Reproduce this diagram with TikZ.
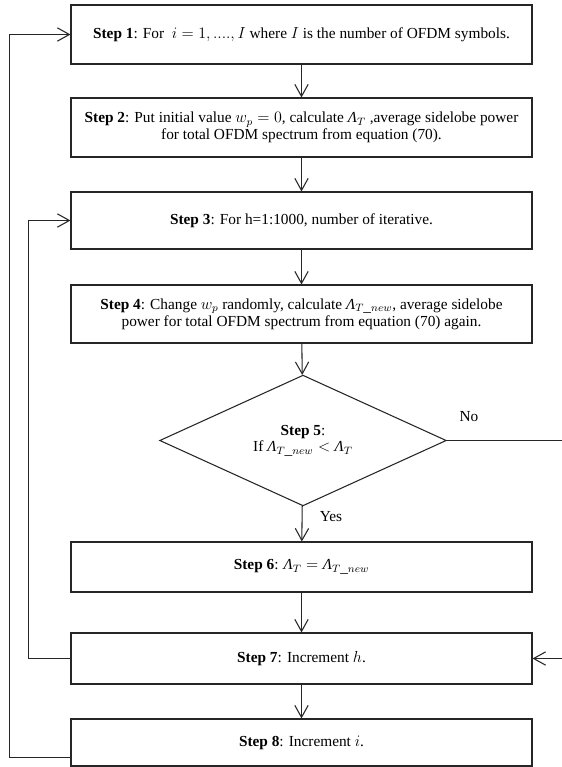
\documentclass[tikz,border=0pt]{standalone}
\usepackage{fontspec}
\setmainfont{Liberation Serif}
\usetikzlibrary{arrows.meta,positioning,calc,shapes.geometric}
\newcommand{\Lam}{\textit{Λ}}

\begin{document}
\begin{tikzpicture}[x=0.75pt,y=-0.75pt,>={Straight Barb[length=9pt,width=10pt]},
 font=\fontsize{11.5}{12.5}\selectfont,line width=0.8pt,draw=black!85,
 stp/.style={draw,rectangle,minimum width=345.75pt,inner sep=2pt,align=center},
 dec/.style={draw,diamond,minimum width=215pt,minimum height=98pt,inner sep=0pt,align=center},
 lbl/.style={inner sep=1pt}]
\useasboundingbox (0,0) rectangle (561,767);
\node[stp,minimum height=44.25pt] (s1) at (301.5,34.5) {\textbf{Step 1}: For~ $i = 1,....,I$ where $I$ is the number of OFDM symbols.};
\node[stp,minimum height=44.25pt] (s2) at (301.5,127.5) {\textbf{Step 2}: Put initial value $w_p = 0$, calculate $\Lam_T$ ,average sidelobe power\\ for total OFDM spectrum from equation (70).};
\node[stp,minimum height=42.75pt] (s3) at (301.5,220.5) {\textbf{Step 3}: For h=1:1000, number of iterative.};
\node[stp,minimum height=43.5pt] (s4) at (301.5,314) {\textbf{Step 4}: Change $w_p$ randomly, calculate $\Lam_{T\_new}$, average sidelobe\\ power for total OFDM spectrum from equation (70) again.};
\node[dec] (s5) at (303,440.5) {\textbf{Step 5}:\\ If $\Lam_{T\_new} < \Lam_T$};
\node[stp,minimum height=37.5pt] (s6) at (301.5,567) {\textbf{Step 6}: $\Lam_T = \Lam_{T\_new}$};
\node[stp,minimum height=38.25pt] (s7) at (301.5,658.5) {\textbf{Step 7}: Increment $h$.};
\node[stp,minimum height=35.25pt] (s8) at (301.5,742.5) {\textbf{Step 8}: Increment $i$.};
\node[lbl] (no) at (469,417) {No};
\node[lbl] (yes) at (331,517) {Yes};
\coordinate (lpo) at (9.3,400);
\coordinate (lpi) at (28.6,400);
\coordinate (rgt) at (580,550);
\draw[->] (s1)--(s2);
\draw[->] (s2)--(s3);
\draw[->] (s3)--(s4);
\draw[->] (s4)--(s5);
\draw[->] (s5)--(s6);
\draw[->] (s6)--(s7);
\draw[->] (s7)--(s8);
\draw[->] (s5.east) -| (rgt) |- (s7.east);
\draw[->] (s7.west) -| (lpi) |- (s3.west);
\draw[->] ([yshift=-11pt]s8.west) -| (lpo) |- (s1.west);
\end{tikzpicture}
\end{document}
